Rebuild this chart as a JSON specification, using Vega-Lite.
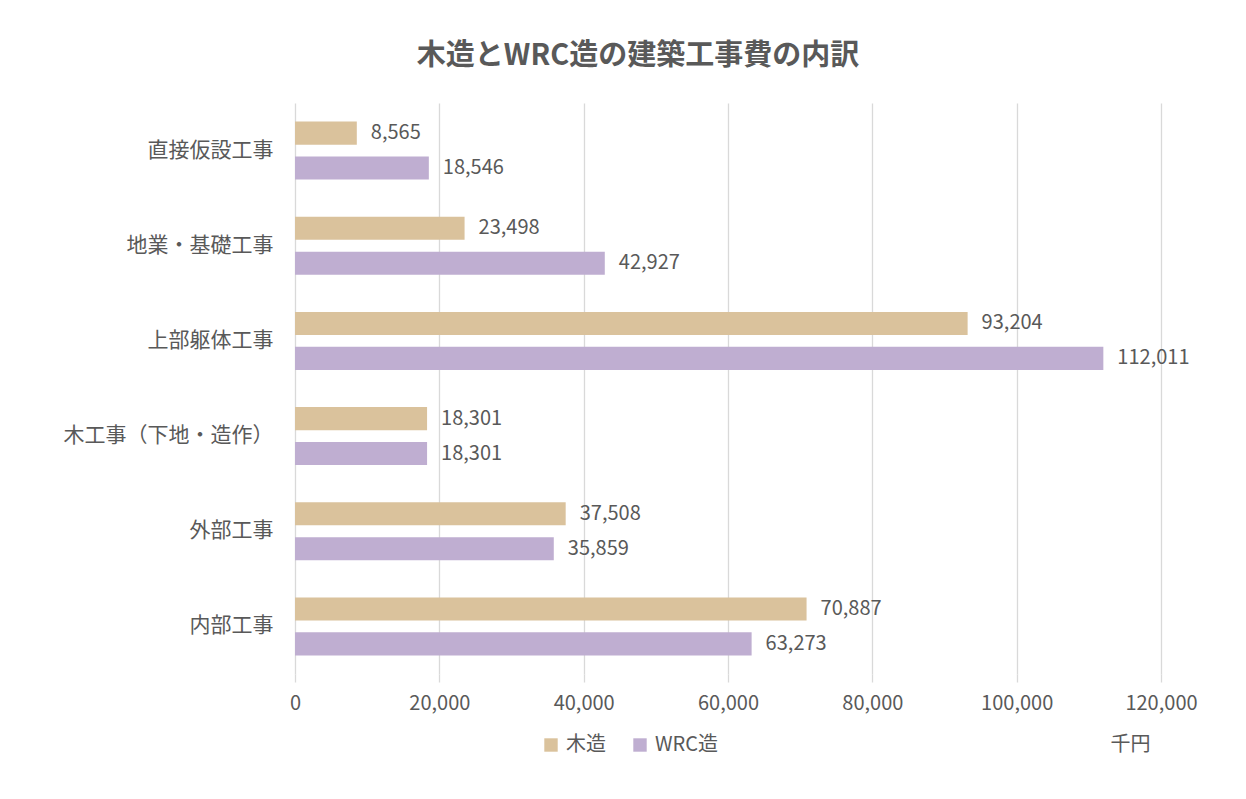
{
  "$schema": "https://vega.github.io/schema/vega-lite/v6.json",
  "autosize": "none",
  "width": 866,
  "height": 571,
  "padding": {"left": 295, "top": 103, "right": 85, "bottom": 125},
  "background": "white",
  "title": {
    "text": "木造とWRC造の建築工事費の内訳",
    "frame": "bounds",
    "anchor": "middle",
    "font": "Noto Sans CJK JP",
    "fontSize": 29,
    "fontWeight": "bold",
    "color": "#595959",
    "offset": 32,
    "dx": 8
  },
  "data": {
    "values": [
      {"category": "直接仮設工事", "type": "木造", "value": 8565},
      {"category": "直接仮設工事", "type": "WRC造", "value": 18546},
      {"category": "地業・基礎工事", "type": "木造", "value": 23498},
      {"category": "地業・基礎工事", "type": "WRC造", "value": 42927},
      {"category": "上部躯体工事", "type": "木造", "value": 93204},
      {"category": "上部躯体工事", "type": "WRC造", "value": 112011},
      {"category": "木工事（下地・造作）", "type": "木造", "value": 18301},
      {"category": "木工事（下地・造作）", "type": "WRC造", "value": 18301},
      {"category": "外部工事", "type": "木造", "value": 37508},
      {"category": "外部工事", "type": "WRC造", "value": 35859},
      {"category": "内部工事", "type": "木造", "value": 70887},
      {"category": "内部工事", "type": "WRC造", "value": 63273}
    ]
  },
  "encoding": {
    "y": {
      "field": "category",
      "type": "nominal",
      "sort": null,
      "scale": {"paddingInner": 0.39, "paddingOuter": 0.195},
      "axis": {
        "title": null,
        "domain": false,
        "ticks": false,
        "labelPadding": 22,
        "labelLimit": 400,
        "labelFont": "Noto Sans CJK JP",
        "labelFontSize": 21,
        "labelColor": "#595959"
      }
    },
    "yOffset": {
      "field": "type",
      "type": "nominal",
      "sort": ["木造", "WRC造"],
      "scale": {"paddingInner": 0.34, "paddingOuter": 0}
    },
    "x": {
      "field": "value",
      "type": "quantitative",
      "scale": {"domain": [0, 120000], "nice": false},
      "axis": {
        "values": [0, 20000, 40000, 60000, 80000, 100000, 120000],
        "format": ",d",
        "domain": false,
        "grid": true,
        "gridColor": "#d9d9d9",
        "gridWidth": 1.3,
        "ticks": true,
        "tickColor": "#d9d9d9",
        "tickSize": 8,
        "tickWidth": 1.3,
        "labelFlush": false,
        "labelPadding": 11,
        "labelFont": "Noto Sans CJK JP",
        "labelFontSize": 20,
        "labelColor": "#595959",
        "title": "千円",
        "titleFont": "Noto Sans CJK JP",
        "titleFontSize": 20,
        "titleFontWeight": "normal",
        "titleColor": "#595959",
        "titleX": 835,
        "titleY": 70,
        "titleAlign": "center",
        "titleBaseline": "middle"
      }
    }
  },
  "layer": [
    {
      "mark": {"type": "bar"},
      "encoding": {
        "color": {
          "field": "type",
          "type": "nominal",
          "sort": ["木造", "WRC造"],
          "scale": {"domain": ["木造", "WRC造"], "range": ["#dac29c", "#bfaed1"]},
          "legend": {
            "title": null,
            "orient": "none",
            "direction": "horizontal",
            "legendX": 246,
            "legendY": 632,
            "symbolType": "square",
            "symbolSize": 180,
            "symbolStrokeWidth": 0,
            "labelFont": "Noto Sans CJK JP",
            "labelFontSize": 20,
            "labelColor": "#595959",
            "labelOffset": 5,
            "columnPadding": 24
          }
        }
      }
    },
    {
      "mark": {
        "type": "text",
        "align": "left",
        "baseline": "middle",
        "dx": 14,
        "font": "Noto Sans CJK JP",
        "fontSize": 20,
        "color": "#595959"
      },
      "encoding": {
        "text": {"field": "value", "type": "quantitative", "format": ","}
      }
    }
  ],
  "config": {"view": {"stroke": null}}
}
